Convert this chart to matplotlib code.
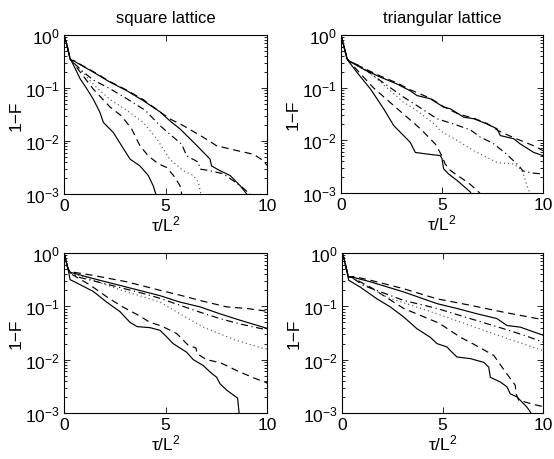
import numpy as np
import matplotlib
matplotlib.use("Agg")
import matplotlib.pyplot as plt
from matplotlib.ticker import LogLocator, NullFormatter, NullLocator

plt.rcParams['font.family'] = ['Liberation Sans', 'DejaVu Sans']
plt.rcParams['mathtext.fontset'] = 'custom'
plt.rcParams['mathtext.rm'] = 'Liberation Sans'
plt.rcParams['mathtext.it'] = 'Liberation Sans'
plt.rcParams['mathtext.default'] = 'regular'

# ---- data: time tau/L^2 and log10(1-F) for six system sizes per panel ----
# square lattice, top row
sq_a_t1 = [0, 0.15, 0.3, 0.38, 0.8, 1.1, 1.44, 1.77, 1.94, 2.43, 2.84, 3.25, 3.74, 4.15, 4.4, 4.6]
sq_a_y1 = [0, -0.2, -0.45, -0.5, -0.83, -1.0, -1.21, -1.46, -1.65, -1.84, -2.09, -2.34, -2.47, -2.65, -2.85, -3.1]
sq_a_t2 = [0, 0.15, 0.3, 0.38, 0.9, 1.44, 2.0, 2.27, 2.84, 3.33, 3.74, 4.15, 4.65, 5.06, 5.39, 5.71, 5.85]
sq_a_y2 = [0, -0.2, -0.45, -0.49, -0.75, -1.02, -1.25, -1.36, -1.53, -1.77, -2.09, -2.28, -2.43, -2.50, -2.65, -2.84, -3.1]
sq_a_t3 = [0, 0.15, 0.3, 0.38, 0.9, 1.5, 2.27, 3.09, 3.91, 4.57, 5.22, 5.88, 6.37, 6.62, 6.8]
sq_a_y3 = [0, -0.2, -0.45, -0.49, -0.70, -0.95, -1.22, -1.42, -1.65, -1.96, -2.35, -2.56, -2.65, -2.78, -3.1]
sq_a_t4 = [0, 0.15, 0.3, 0.38, 0.9, 1.44, 2.2, 3.0, 4.0, 4.73, 5.3, 5.8, 6.04, 6.62, 6.70, 7.19, 7.85, 8.34, 8.8, 9.3]
sq_a_y4 = [0, -0.2, -0.45, -0.49, -0.68, -0.85, -1.0, -1.18, -1.42, -1.71, -1.90, -2.06, -2.28, -2.40, -2.53, -2.56, -2.62, -2.75, -2.88, -3.05]
sq_a_t5 = [0, 0.15, 0.3, 0.38, 0.46, 1.44, 2.27, 3.09, 3.91, 4.73, 5.22, 5.71, 6.37, 6.86, 7.19, 7.27, 7.68, 8.18, 8.67, 9.0, 9.1]
sq_a_y5 = [0, -0.2, -0.45, -0.48, -0.485, -0.70, -0.89, -1.05, -1.24, -1.45, -1.62, -1.77, -2.02, -2.21, -2.34, -2.47, -2.56, -2.65, -2.84, -3.0, -3.1]
sq_a_t6 = [0, 0.15, 0.3, 0.38, 0.46, 1.44, 2.27, 3.09, 3.91, 4.73, 5.2, 5.88, 6.86, 7.52, 8.51, 9.33, 9.82, 10]
sq_a_y6 = [0, -0.2, -0.45, -0.48, -0.48, -0.69, -0.88, -1.04, -1.22, -1.45, -1.58, -1.71, -1.93, -2.09, -2.18, -2.25, -2.37, -2.46]

# triangular lattice, top row
tri_a_t1 = [0, 0.1, 0.3, 0.38, 0.79, 1.45, 2.11, 2.61, 3.10, 3.43, 3.68, 4.26, 4.92, 5.0, 5.08, 5.33, 5.74, 6.40, 6.5]
tri_a_y1 = [0, -0.15, -0.45, -0.5, -0.71, -1.02, -1.40, -1.72, -1.91, -2.04, -2.23, -2.26, -2.29, -2.35, -2.54, -2.64, -2.76, -2.98, -3.05]
tri_a_t2 = [0, 0.1, 0.3, 0.38, 1.0, 1.6, 2.28, 3.27, 3.93, 4.67, 5.0, 5.16, 5.41, 5.74, 6.32, 6.73, 7.0]
tri_a_y2 = [0, -0.15, -0.45, -0.49, -0.75, -1.0, -1.23, -1.56, -1.78, -2.07, -2.3, -2.45, -2.57, -2.66, -2.81, -2.95, -3.05]
tri_a_t3 = [0, 0.1, 0.3, 0.38, 1.0, 1.62, 3.10, 3.62, 4.59, 4.92, 5.74, 6.58, 6.90, 7.72, 8.55, 8.96, 9.21, 9.4]
tri_a_y3 = [0, -0.15, -0.45, -0.49, -0.62, -0.78, -1.28, -1.40, -1.68, -1.82, -2.0, -2.2, -2.26, -2.42, -2.45, -2.57, -2.86, -3.05]
tri_a_t4 = [0, 0.1, 0.3, 0.38, 1.0, 2.0, 3.1, 4.0, 4.75, 5.5, 6.40, 6.90, 7.5, 8.13, 8.80, 9.0, 9.46, 10]
tri_a_y4 = [0, -0.15, -0.45, -0.49, -0.60, -0.88, -1.18, -1.40, -1.59, -1.68, -1.80, -1.94, -2.05, -2.24, -2.48, -2.58, -2.62, -2.64]
tri_a_t5 = [0, 0.1, 0.3, 0.38, 1.12, 1.95, 2.77, 3.43, 3.76, 4.42, 5.08, 5.41, 6.07, 6.57, 7.23, 7.72, 7.89, 8.55, 8.88, 9.54, 10]
tri_a_y5 = [0, -0.15, -0.45, -0.49, -0.65, -0.80, -0.93, -1.06, -1.15, -1.21, -1.37, -1.40, -1.56, -1.59, -1.69, -1.78, -1.91, -1.97, -2.07, -2.23, -2.29]
tri_a_t6 = [0, 0.1, 0.3, 0.38, 1.12, 1.95, 2.77, 3.43, 4.42, 5.08, 5.8, 6.57, 7.23, 7.8, 8.55, 9.2, 9.7, 10]
tri_a_y6 = [0, -0.15, -0.45, -0.49, -0.63, -0.78, -0.91, -1.04, -1.20, -1.36, -1.50, -1.58, -1.68, -1.82, -1.95, -2.05, -2.13, -2.2]

# square lattice, bottom row
sq_b_t1 = [0, 0.1, 0.2, 0.3, 0.62, 1.44, 2.10, 2.76, 3.25, 3.6, 4.24, 4.73, 5.0, 5.38, 6.04, 6.37, 6.86, 7.19, 7.52, 7.68, 8.01, 8.55, 8.62, 8.65]
sq_b_y1 = [0, -0.15, -0.3, -0.5, -0.56, -0.72, -0.92, -1.10, -1.30, -1.38, -1.40, -1.45, -1.55, -1.70, -1.86, -2.0, -2.11, -2.23, -2.33, -2.45, -2.57, -2.72, -2.98, -3.1]
sq_b_t2 = [0, 0.1, 0.2, 0.3, 1.28, 2.10, 2.84, 3.58, 4.24, 4.81, 5.55, 6.12, 6.50, 6.55, 7.03, 7.72, 8.54, 9.33, 9.9, 10]
sq_b_y2 = [0, -0.15, -0.3, -0.38, -0.60, -0.82, -1.0, -1.15, -1.30, -1.37, -1.51, -1.73, -1.78, -1.89, -2.0, -2.06, -2.21, -2.34, -2.42, -2.44]
sq_b_t3 = [0, 0.1, 0.2, 0.3, 1.0, 2.68, 4.24, 4.73, 5.71, 6.86, 8.42, 9.74, 10]
sq_b_y3 = [0, -0.15, -0.3, -0.37, -0.45, -0.68, -0.86, -0.92, -1.14, -1.39, -1.63, -1.78, -1.80]
sq_b_t4 = [0, 0.1, 0.2, 0.3, 0.79, 2.27, 3.91, 4.73, 5.71, 6.70, 7.68, 8.67, 9.98]
sq_b_y4 = [0, -0.15, -0.3, -0.37, -0.46, -0.60, -0.76, -0.85, -0.98, -1.11, -1.23, -1.33, -1.44]
sq_b_t5 = [0, 0.1, 0.2, 0.3, 1.44, 3.09, 4.73, 5.71, 6.70, 7.68, 8.67, 9.98]
sq_b_y5 = [0, -0.15, -0.3, -0.36, -0.48, -0.64, -0.80, -0.92, -1.01, -1.14, -1.26, -1.41]
sq_b_t6 = [0, 0.1, 0.2, 0.3, 0.46, 1.44, 3.09, 4.73, 5.71, 6.70, 8.01, 9.0, 9.98]
sq_b_y6 = [0, -0.15, -0.3, -0.35, -0.36, -0.42, -0.54, -0.70, -0.79, -0.89, -1.01, -1.04, -1.09]

# triangular lattice, bottom row
tri_b_t1 = [0, 0.1, 0.25, 0.33, 0.91, 1.74, 2.40, 3.07, 3.73, 4.39, 4.73, 5.22, 5.39, 5.72, 6.38, 7.05, 7.30, 7.38, 7.88, 8.21, 8.37, 8.71, 9.20, 9.37, 9.45]
tri_b_y1 = [0, -0.1, -0.35, -0.51, -0.64, -0.86, -1.01, -1.20, -1.42, -1.58, -1.70, -1.76, -1.83, -1.95, -1.98, -2.05, -2.14, -2.33, -2.42, -2.51, -2.64, -2.70, -2.89, -2.98, -3.05]
tri_b_t2 = [0, 0.1, 0.25, 0.33, 0.45, 1.41, 3.07, 4.73, 4.89, 5.89, 6.55, 7.55, 8.17, 8.62, 8.66, 8.79, 9.54, 10]
tri_b_y2 = [0, -0.1, -0.35, -0.45, -0.45, -0.64, -1.04, -1.30, -1.33, -1.58, -1.71, -1.92, -2.25, -2.48, -2.64, -2.76, -2.84, -2.88]
tri_b_t3 = [0, 0.1, 0.25, 0.33, 0.45, 2.24, 4.73, 6.38, 8.04, 10]
tri_b_y3 = [0, -0.1, -0.35, -0.45, -0.45, -0.83, -1.14, -1.36, -1.58, -1.83]
tri_b_t4 = [0, 0.1, 0.25, 0.33, 0.45, 1.08, 3.07, 4.73, 6.38, 8.04, 9.04, 10]
tri_b_y4 = [0, -0.1, -0.35, -0.45, -0.45, -0.61, -0.89, -1.04, -1.23, -1.42, -1.54, -1.67]
tri_b_t5 = [0, 0.1, 0.25, 0.33, 0.50, 1.41, 3.07, 4.73, 5.72, 6.72, 7.71, 8.21, 8.87, 9.54, 10]
tri_b_y5 = [0, -0.1, -0.35, -0.45, -0.45, -0.54, -0.73, -0.95, -1.04, -1.14, -1.23, -1.36, -1.39, -1.48, -1.54]
tri_b_t6 = [0, 0.1, 0.25, 0.33, 0.58, 1.41, 3.07, 4.73, 6.38, 8.04, 10]
tri_b_y6 = [0, -0.1, -0.35, -0.45, -0.44, -0.51, -0.67, -0.86, -0.98, -1.11, -1.25]

titles = ['square lattice', 'triangular lattice']
x_ticks = [0, 5, 10]
y_ticks = [1e-3, 1e-2, 1e-1, 1e0]
y_tick_labels = [r'$10^{-3}$', r'$10^{-2}$', r'$10^{-1}$', r'$10^{0}$']

panels = [
    [(sq_a_t1, sq_a_y1), (sq_a_t2, sq_a_y2), (sq_a_t3, sq_a_y3),
     (sq_a_t4, sq_a_y4), (sq_a_t5, sq_a_y5), (sq_a_t6, sq_a_y6)],
    [(tri_a_t1, tri_a_y1), (tri_a_t2, tri_a_y2), (tri_a_t3, tri_a_y3),
     (tri_a_t4, tri_a_y4), (tri_a_t5, tri_a_y5), (tri_a_t6, tri_a_y6)],
    [(sq_b_t1, sq_b_y1), (sq_b_t2, sq_b_y2), (sq_b_t3, sq_b_y3),
     (sq_b_t4, sq_b_y4), (sq_b_t5, sq_b_y5), (sq_b_t6, sq_b_y6)],
    [(tri_b_t1, tri_b_y1), (tri_b_t2, tri_b_y2), (tri_b_t3, tri_b_y3),
     (tri_b_t4, tri_b_y4), (tri_b_t5, tri_b_y5), (tri_b_t6, tri_b_y6)],
]

# MATLAB-like black line style cycle
line_styles = [
    dict(linestyle='-'),
    dict(linestyle=(0, (6, 4))),
    dict(linestyle=(0, (1, 2.5)), color='0.35'),
    dict(linestyle=(0, (6, 3, 1, 3))),
    dict(linestyle='-'),
    dict(linestyle=(0, (6, 4))),
]

W, H = 554, 460
fig = plt.figure(figsize=(W / 100, H / 100), dpi=100)
boxes = [
    (64, 36, 203, 159),
    (341, 36, 202, 158),
    (64, 254, 203, 160),
    (342, 254, 201, 160),
]

FS = 12.5
for k, ((x0, y0, w, h), curves) in enumerate(zip(boxes, panels)):
    ax = fig.add_axes([x0 / W, 1 - (y0 + h) / H, w / W, h / H])
    for (t, lg), st in zip(curves, line_styles):
        kw = dict(color='k', lw=0.85)
        kw.update(st)
        ax.plot(t, 10.0 ** np.asarray(lg), **kw)
    ax.set_yscale('log')
    ax.set_xlim(0, 10)
    ax.set_ylim(1e-3, 1)
    ax.set_xticks(x_ticks)
    ax.set_xticklabels([str(v) for v in x_ticks], fontsize=FS)
    ax.set_yticks(y_ticks)
    ax.set_yticklabels(y_tick_labels, fontsize=FS)
    ax.yaxis.set_minor_locator(LogLocator(base=10, subs=np.arange(2, 10)))
    ax.yaxis.set_minor_formatter(NullFormatter())
    ax.xaxis.set_minor_locator(NullLocator())
    ax.tick_params(which='both', direction='in', top=True, right=True,
                   width=0.6, color='k')
    ax.tick_params(which='major', length=4, pad=3)
    ax.tick_params(which='minor', length=2)
    for sp in ax.spines.values():
        sp.set_linewidth(0.8)
    ax.set_xlabel(r'$\tau/L^2$', fontsize=FS, labelpad=0)
    ax.set_ylabel('1\u2212F', fontsize=FS, labelpad=1)
    if k < 2:
        ax.set_title(titles[k], fontsize=FS - 0.5, pad=9)

fig.savefig('out.png', dpi=100, facecolor='white')
